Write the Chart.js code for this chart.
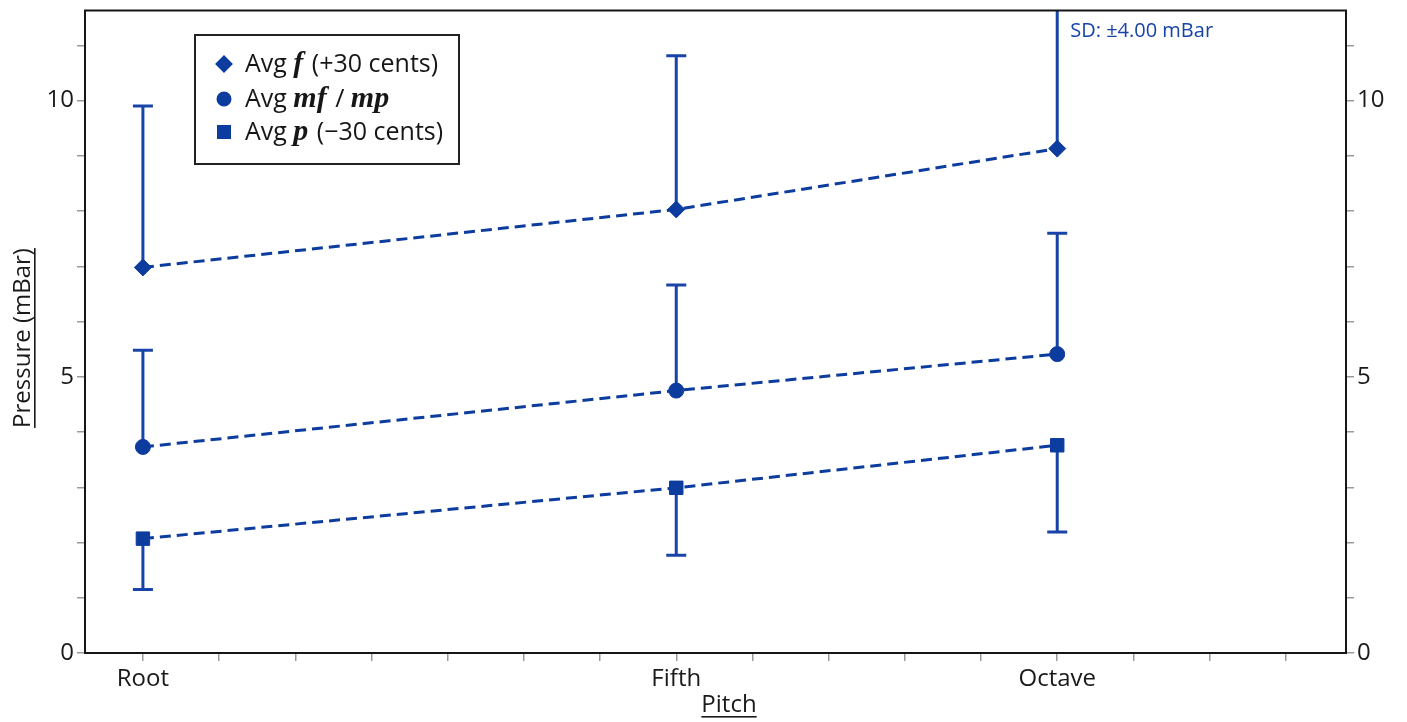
<!DOCTYPE html>
<html>
<head>
<meta charset="utf-8">
<script src="https://cdn.jsdelivr.net/npm/chart.js@4.4.1/dist/chart.umd.min.js"></script>
<style>
  html, body { margin: 0; padding: 0; background: #fff; }
  #wrap { width: 1407px; height: 722px; position: relative; }
</style>
</head>
<body>
<div id="wrap"><canvas id="c" width="1407" height="722"></canvas></div>
<script>
// Pitch positions (semitones above the root) and their names
const pitchNames = ['Root', 'Fifth', 'Octave'];
const pitchSemitones = [0, 7, 12];

// Mean blowing pressure (mBar) and standard deviation per dynamic level
const avgForte = [6.98, 8.03, 9.13];
const sdForte  = [2.92, 2.78, 4.00];
const avgMezzo = [3.73, 4.75, 5.41];
const sdMezzo  = [1.75, 1.91, 2.19];
const avgPiano = [2.07, 2.99, 3.76];
const sdPiano  = [0.92, 1.22, 1.57];

// Labelled pressure ticks
const pressureLabels = [0, 5, 10];

// Legend labels: plain text runs and dynamic-marking runs
const labelForte = [['Avg ', 'txt'], ['f', 'dyn'], [' (+30 cents)', 'txt']];
const labelMezzo = [['Avg ', 'txt'], ['mf', 'dyn'], [' / ', 'txt'], ['mp', 'dyn']];
const labelPiano = [['Avg ', 'txt'], ['p', 'dyn'], [' (\u221230 cents)', 'txt']];

const BLUE = '#0d3c9f';
const BAR_BLUE = '#1744a6';
const TEXT_FONT = "'Open Sans', sans-serif";
const DYN_FONT = "'Liberation Serif', 'DejaVu Serif', serif";

function pts(values) {
  return values.map((v, i) => ({ x: pitchSemitones[i], y: v }));
}

function series(label, values, sd, dir, style, radius) {
  return {
    label: label.map(r => r[0]).join(''),
    labelRuns: label,
    data: pts(values),
    sd: sd,
    errDir: dir,
    borderColor: BLUE,
    backgroundColor: BLUE,
    borderWidth: 3,
    borderDash: [11, 6],
    tension: 0,
    fill: false,
    pointStyle: style,
    pointRadius: radius,
    pointHoverRadius: radius,
    pointBackgroundColor: BLUE,
    pointBorderColor: BLUE,
    pointBorderWidth: 1
  };
}

// One-sided standard deviation bars
const errorBars = {
  id: 'errorBars',
  beforeDatasetsDraw(chart) {
    const { ctx, chartArea: a, scales: { x, y } } = chart;
    ctx.save();
    ctx.beginPath();
    ctx.rect(a.left, a.top, a.right - a.left, a.bottom - a.top);
    ctx.clip();
    ctx.strokeStyle = BAR_BLUE;
    ctx.lineWidth = 3;
    chart.data.datasets.forEach(ds => {
      ds.data.forEach((p, i) => {
        const px = x.getPixelForValue(p.x);
        const y0 = y.getPixelForValue(p.y);
        const end = p.y + ds.errDir * ds.sd[i];
        const y1 = y.getPixelForValue(end);
        ctx.beginPath();
        ctx.moveTo(px, y0);
        ctx.lineTo(px, y1);
        ctx.stroke();
        if (y1 >= a.top && y1 <= a.bottom) {
          ctx.beginPath();
          ctx.moveTo(px - 10, y1);
          ctx.lineTo(px + 10, y1);
          ctx.stroke();
        } else if (y1 < a.top) {
          ctx.fillStyle = BAR_BLUE;
          ctx.font = '20px ' + TEXT_FONT;
          ctx.textBaseline = 'alphabetic';
          ctx.textAlign = 'left';
          ctx.fillText('SD: \u00b1' + ds.sd[i].toFixed(2) + ' mBar', px + 13, a.top + 26);
        }
      });
    });
    ctx.restore();
  }
};

// Frame around the plotting area
const frame = {
  id: 'frame',
  afterDatasetsDraw(chart) {
    const { ctx, chartArea: a } = chart;
    ctx.save();
    ctx.strokeStyle = '#161616';
    ctx.lineWidth = 2;
    ctx.strokeRect(a.left, a.top, a.right - a.left, a.bottom - a.top);
    ctx.restore();
  }
};

// Underlined axis titles
function underlined(ctx, text, cx, baseline) {
  const w = ctx.measureText(text).width;
  ctx.fillText(text, cx, baseline);
  ctx.fillRect(cx - w / 2, baseline + 4, w, 1.6);
}
const axisTitles = {
  id: 'axisTitles',
  afterDraw(chart) {
    const { ctx, chartArea: a } = chart;
    ctx.save();
    ctx.fillStyle = '#1a1a1a';
    ctx.font = '24px ' + TEXT_FONT;
    ctx.textAlign = 'center';
    ctx.textBaseline = 'alphabetic';
    underlined(ctx, 'Pitch', 729, 712);
    ctx.translate(30, 338);
    ctx.rotate(-Math.PI / 2);
    underlined(ctx, 'Pressure (mBar)', 0, 0);
    ctx.restore();
  }
};

// Boxed legend with mixed text and dynamic-marking fonts
const dynLegend = {
  id: 'dynLegend',
  afterDraw(chart) {
    const { ctx } = chart;
    const box = { x: 195, y: 35, w: 264, h: 129 };
    const rows = [64, 99, 132];
    ctx.save();
    ctx.fillStyle = '#fff';
    ctx.fillRect(box.x, box.y, box.w, box.h);
    ctx.strokeStyle = '#222';
    ctx.lineWidth = 2;
    ctx.strokeRect(box.x, box.y, box.w, box.h);
    chart.data.datasets.forEach((ds, i) => {
      const cy = rows[i];
      ctx.fillStyle = BLUE;
      ctx.strokeStyle = BLUE;
      Chart.helpers.drawPoint(ctx, {
        pointStyle: ds.pointStyle,
        radius: ds.pointStyle === 'rect' ? 8.5 : (ds.pointStyle === 'circle' ? 6.5 : 7.5),
        borderWidth: 1,
        rotation: 0
      }, 224, cy);
      let tx = 245;
      ctx.fillStyle = '#161616';
      ctx.textAlign = 'left';
      ctx.textBaseline = 'alphabetic';
      ds.labelRuns.forEach(([t, kind]) => {
        ctx.font = kind === 'dyn' ? 'italic bold 30px ' + DYN_FONT : '25px ' + TEXT_FONT;
        ctx.fillText(t, tx, cy + 8);
        tx += ctx.measureText(t).width + (kind === 'dyn' ? 2 : 0);
      });
    });
    ctx.restore();
  }
};

Chart.defaults.font.family = TEXT_FONT;

function noEdgePadding(s) {
  s.paddingTop = 0;
  s.paddingBottom = 0;
  s.paddingLeft = 0;
  s.paddingRight = 0;
}

function pressureAxis(position, width) {
  return {
    position: position,
    min: 0,
    max: 11.63,
    border: { display: false },
    grid: { drawOnChartArea: false, drawTicks: true, tickLength: 8, color: '#9a9a9a', lineWidth: 1.5 },
    afterBuildTicks(s) {
      const t = [];
      for (let v = 0; v <= Math.floor(s.max); v++) t.push({ value: v });
      s.ticks = t;
    },
    ticks: {
      padding: 3,
      color: '#1a1a1a',
      font: { size: 24 },
      callback(v) { return pressureLabels.includes(v) ? String(v) : ''; }
    },
    afterFit(s) { s.width = width; noEdgePadding(s); }
  };
}

new Chart(document.getElementById('c'), {
  type: 'line',
  data: {
    datasets: [
      series(labelForte, avgForte, sdForte, 1, 'rectRot', 8.5),
      series(labelMezzo, avgMezzo, sdMezzo, 1, 'circle', 7.5),
      series(labelPiano, avgPiano, sdPiano, -1, 'rect', 9.5)
    ]
  },
  options: {
    responsive: false,
    animation: false,
    devicePixelRatio: 1,
    layout: { padding: { top: 8, left: 0, right: 0, bottom: 0 } },
    plugins: { legend: { display: false }, tooltip: { enabled: false } },
    scales: {
      x: {
        type: 'linear',
        min: -0.76,
        max: 15.79,
        border: { display: false },
        grid: { drawOnChartArea: false, drawTicks: true, tickLength: 8, color: '#9a9a9a', lineWidth: 1.5 },
        afterBuildTicks(s) {
          const t = [];
          for (let v = Math.ceil(s.min); v <= Math.floor(s.max); v++) t.push({ value: v });
          s.ticks = t;
        },
        ticks: {
          autoSkip: false,
          maxRotation: 0,
          padding: 4,
          color: '#1a1a1a',
          font: { size: 24 },
          callback(v) {
            const i = pitchSemitones.indexOf(v);
            return i >= 0 ? pitchNames[i] : '';
          }
        },
        afterFit(s) { s.height = 69; noEdgePadding(s); }
      },
      y: pressureAxis('left', 85),
      y2: pressureAxis('right', 61)
    }
  },
  plugins: [errorBars, frame, axisTitles, dynLegend]
});
</script>
</body>
</html>
